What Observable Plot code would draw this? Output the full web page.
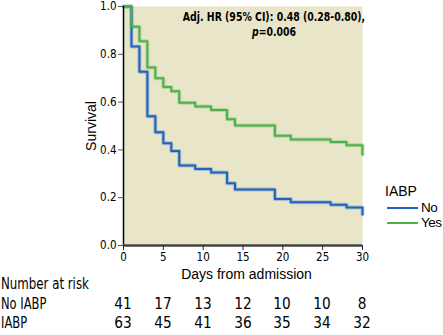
<!DOCTYPE html>
<html>
<head>
<meta charset="utf-8">
<script src="https://cdn.jsdelivr.net/npm/d3@7"></script>
<script src="https://cdn.jsdelivr.net/npm/@observablehq/plot@0.6"></script>
<style>
  body { margin: 0; background: #fff; }
  #wrap { position: relative; width: 443px; height: 335px; overflow: hidden; }
  .narrow { font-family: "Liberation Sans Narrow", "DejaVu Sans Condensed", "Roboto Condensed", sans-serif; font-stretch: condensed; }
  .reg { font-family: "Liberation Sans", Arial, sans-serif; }
  .abs { position: absolute; white-space: nowrap; line-height: 1; color: #000; }
</style>
</head>
<body>
<div id="wrap"></div>
<script>
// ---- data ----
const days    = [0, 1, 2, 3, 4, 5, 6, 7, 9, 11, 13, 14, 19, 21, 26, 28, 30];
const survNo  = [1, 0.833, 0.727, 0.541, 0.474, 0.428, 0.395, 0.335, 0.32, 0.305, 0.26, 0.234, 0.195, 0.181, 0.17, 0.159, 0.13];
const survYes = [1, 0.915, 0.855, 0.745, 0.70, 0.663, 0.645, 0.597, 0.582, 0.567, 0.528, 0.502, 0.459, 0.444, 0.433, 0.419, 0.381];
const groups  = ["No", "Yes"];
const groupColors = ["#1f62c0", "#4cb14a"];
const xTicks  = [0, 5, 10, 15, 20, 25, 30];
const yTicks  = [0, 0.2, 0.4, 0.6, 0.8, 1.0];
const riskDays = [0, 5, 10, 15, 20, 25, 30];
const riskNo   = [41, 17, 13, 12, 10, 10, 8];
const riskYes  = [63, 45, 41, 36, 35, 34, 32];
const riskRows = ["No IABP", "IABP"];
const riskTitle = "Number at risk";
const xLabel = "Days from admission";
const yLabel = "Survival";
const legendTitle = "IABP";
const annotLine1 = "Adj. HR (95% CI): 0.48 (0.28-0.80),";
const annotP = "=0.006";

const rows = [];
days.forEach((d, i) => {
  rows.push({day: d, s: survNo[i], group: groups[0]});
  rows.push({day: d, s: survYes[i], group: groups[1]});
});

const narrow = '"Liberation Sans Narrow", "DejaVu Sans Condensed", sans-serif';
const regular = '"Liberation Sans", Arial, sans-serif';

const chart = Plot.plot({
  width: 443,
  height: 280,
  marginLeft: 123,
  marginRight: 81,
  marginTop: 6,
  marginBottom: 35,
  style: {fontFamily: narrow, fontSize: "11.5px", background: "transparent", color: "#000"},
  x: {domain: [0, 30], label: null},
  y: {domain: [0, 1], label: null},
  color: {domain: groups, range: groupColors},
  marks: [
    Plot.frame({fill: "#e9e5c9", stroke: null}),
    Plot.line(rows, {x: "day", y: "s", z: "group", stroke: "group", curve: "step-after", strokeWidth: 4, strokeOpacity: 0.3}),
    Plot.line(rows, {x: "day", y: "s", z: "group", stroke: "group", curve: "step-after", strokeWidth: 2}),
    Plot.ruleX([0], {stroke: "#000", strokeWidth: 1.5}),
    Plot.ruleY([0], {stroke: "#444", strokeWidth: 2.5}),
    Plot.axisX({ticks: xTicks, tickSize: 5, tickPadding: 2, stroke: "#222", fontSize: 11.5, label: null}),
    Plot.axisY({ticks: yTicks, tickSize: 5, tickPadding: 2, stroke: "#555", fontSize: 11.5, tickFormat: d3.format(".1f"), label: null})
  ]
});

const wrap = document.getElementById("wrap");
chart.style.position = "absolute";
chart.style.left = "0px";
chart.style.top = "0px";
wrap.appendChild(chart);

const xs = chart.scale("x");
const ys = chart.scale("y");

function addText(html, cls, left, top, extra) {
  const el = document.createElement("div");
  el.className = "abs " + cls;
  el.innerHTML = html;
  el.style.left = left + "px";
  el.style.top = top + "px";
  if (extra) Object.assign(el.style, extra);
  wrap.appendChild(el);
  return el;
}

// axis titles, centred on the scales' ranges
const xMid = (xs.range[0] + xs.range[1]) / 2;
const yMid = (ys.range[0] + ys.range[1]) / 2;
addText(xLabel, "reg", xMid + 4, 274 - 7, {fontSize: "14px", transform: "translateX(-50%)"});
addText(yLabel, "reg", 91, yMid - 7, {fontSize: "14px", transform: "translateX(-50%) rotate(-90deg)"});

// annotation
addText(annotLine1 + "<br><i>p</i>" + annotP, "narrow", xs.apply(19), 10,
  {fontWeight: "bold", fontSize: "13px", lineHeight: "14.5px", textAlign: "center", transform: "translateX(-50%) scaleX(0.8)"});

// legend
addText(legendTitle, "reg", 385, 184, {fontSize: "14px"});
groups.forEach((g, i) => {
  const cy = 207.5 + i * 15.5;
  const ln = document.createElement("div");
  ln.style.cssText = `position:absolute;left:387px;top:${cy - 1}px;width:31px;height:2px;background:${groupColors[i]}`;
  wrap.appendChild(ln);
  addText(g, "reg", 421, cy - 7, {fontSize: "13.5px", letterSpacing: "-0.5px"});
});

// number at risk table
addText(riskTitle, "narrow", 1, 276, {fontSize: "16px", transform: "scaleX(0.82)", transformOrigin: "left center"});
[riskNo, riskYes].forEach((arr, r) => {
  const cy = 303.5 + r * 19.5;
  addText(riskRows[r], "narrow", 1, cy - 8, {fontSize: "16px", transform: "scaleX(0.8)", transformOrigin: "left center"});
  arr.forEach((v, i) => {
    addText(String(v), "narrow", xs.apply(riskDays[i]), cy - 8, {fontSize: "16px", transform: "translateX(-50%) scaleX(0.95)"});
  });
});
</script>
</body>
</html>
